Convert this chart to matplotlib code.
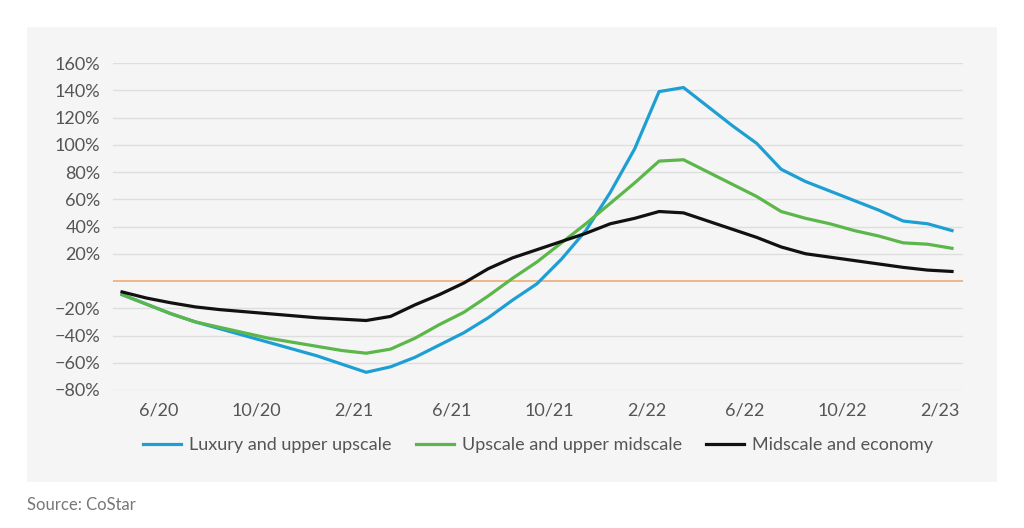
import matplotlib.pyplot as plt
from matplotlib.patches import Rectangle

# monthly, 4/20 .. 2/23
months = [f"{m}/{y}" for y, ms in ((20, range(4, 13)), (21, range(1, 13)),
                                   (22, range(1, 13)), (23, range(1, 3))) for m in ms]
luxury = [-10, -17, -24, -30, -35, -40, -45, -50, -55, -61, -67, -63, -56, -47, -38, -27, -14, -2,
          16, 37, 65, 97, 139, 142, 128, 114, 101, 82, 73, 66, 59, 52, 44, 42, 37]
upscale = [-10, -17, -24, -30, -34, -38, -42, -45, -48, -51, -53, -50, -42, -32, -23, -11, 2, 14,
           28, 42, 57, 72, 88, 89, 80, 71, 62, 51, 46, 42, 37, 33, 28, 27, 24]
midscale = [-8, -12.5, -16, -19, -21, -22.5, -24, -25.5, -27, -28, -29, -26, -17.5, -10, -1.5, 9, 17, 23,
            29, 35, 42, 46, 51, 50, 44, 38, 32, 25, 20, 17.5, 15, 12.5, 10, 8, 7]
tick_labels = ["6/20", "10/20", "2/21", "6/21", "10/21", "2/22", "6/22", "10/22", "2/23"]
y_ticks = [-80, -60, -40, -20, 20, 40, 60, 80, 100, 120, 140, 160]

plt.rcParams["font.family"] = ["Lato", "DejaVu Sans"]

fig = plt.figure(figsize=(10.24, 5.28), dpi=100)
fig.patches.append(Rectangle((27 / 1024, 1 - 482 / 528), 970 / 1024, 455 / 528,
                             transform=fig.transFigure, facecolor="#f5f5f5", edgecolor="none", zorder=-5))
ax = fig.add_axes([113 / 1024, 1 - 390 / 528, 850 / 1024, 327 / 528])
ax.set_facecolor("none")

x = list(range(len(months)))
ax.plot(x, luxury, color="#1e9fd4", lw=2.3, label="Luxury and upper upscale", zorder=3)
ax.plot(x, upscale, color="#5bb749", lw=2.3, label="Upscale and upper midscale", zorder=3)
ax.plot(x, midscale, color="#111111", lw=2.3, label="Midscale and economy", zorder=4)
ax.axhline(0, color="#f0b27e", lw=1.3, zorder=2)

ax.set_ylim(-80, 160)
ax.set_xlim(-0.37, 34.45)
ax.set_yticks(y_ticks)
ax.set_yticklabels([f"{v}%".replace("-", "\u2212") for v in y_ticks])
ax.set_xticks([months.index(t) - 0.5 for t in tick_labels])
ax.set_xticklabels(tick_labels)
ax.grid(axis="y", color="#dedede", lw=1, zorder=1)
ax.tick_params(length=0, labelsize=13, colors="#555555", pad=9)
ax.tick_params(axis="y", pad=9)
for s in ax.spines.values():
    s.set_visible(False)

ax.legend(loc="upper center", bbox_to_anchor=(0.5, -0.095), ncol=3, frameon=False,
          fontsize=13, labelcolor="#555555", handlelength=2.1, columnspacing=1.35, handletextpad=0.45)

fig.text(27 / 1024, 1 - 505 / 528, "Source: CoStar", fontsize=12, color="#777777", va="center")

fig.savefig("out.png", dpi=100)
